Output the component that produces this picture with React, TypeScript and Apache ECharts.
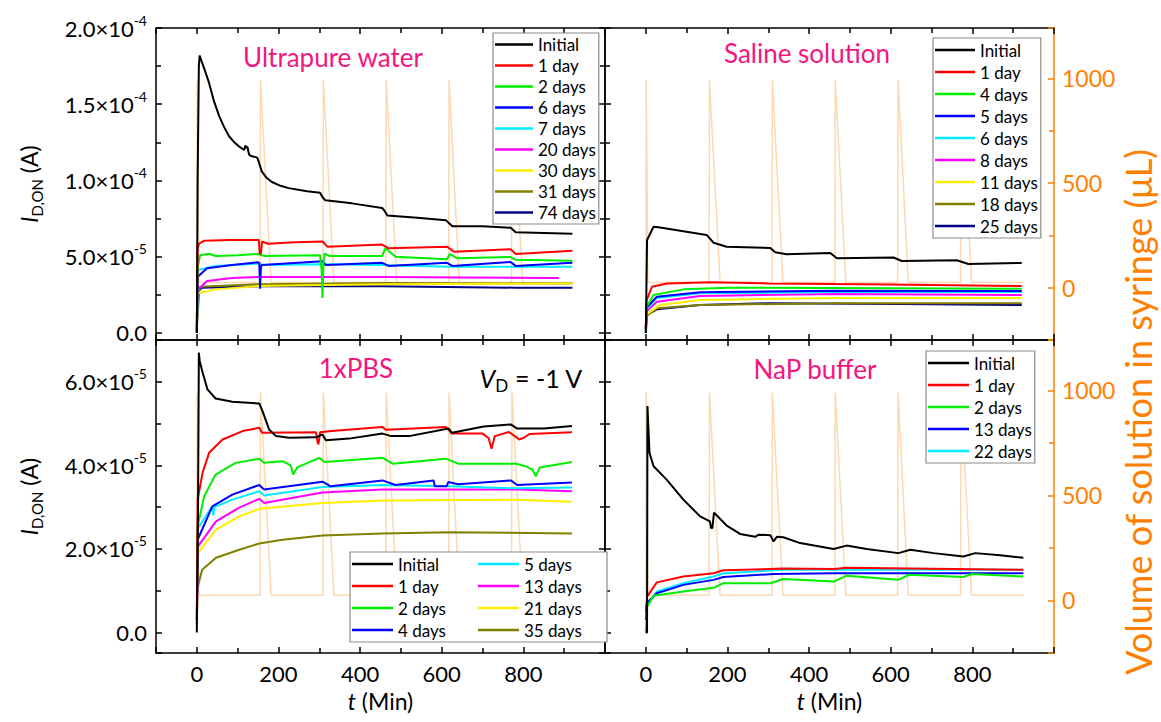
import React, { useEffect, useRef } from 'react';
import * as echarts from 'echarts';

type Pt = [number, number];

// ---- values are in units of 1e-5 A (converted with I_UNIT), time in minutes ----
const I_UNIT = 1e-5;

const T_MIN = -100;
const T_MAX = 1000;
const T_STEP = 200;

const TOP_I_MIN = -0.46e-5;
const TOP_I_MAX = 20e-5;
const TOP_I_STEP = 5e-5;
const BOT_I_MIN = -0.49e-5;
const BOT_I_MAX = 7e-5;
const BOT_I_STEP = 2e-5;

const VOL_MIN = -250;
const VOL_MAX = 1240;
const VOL_STEP = 500;

// syringe volume (µL) vs time (min)
const VOLUME: Pt[] = [
  [0, 25], [1, 990], [5, 25], [155, 25], [156, 990], [182, 25], [309, 25], [310, 990], [336, 25],
  [463, 25], [464, 990], [490, 25], [617, 25], [618, 990], [643, 25], [771, 25], [772, 990], [798, 25], [925, 25],
];

// ---------- Ultrapure water ----------
const UW_LABELS = ['Initial', '1 day', '2 days', '6 days', '7 days', '20 days', '30 days', '31 days', '74 days'];
const UW_INITIAL: Pt[] = [[0, 0], [2, 10], [5, 17.5], [7, 18.2], [12, 17.8], [20, 17.2], [30, 16.4], [42, 15.2], [55, 14.2], [67, 13.5], [79, 12.9], [92, 12.5], [105, 12.2], [116, 12.0], [119, 12.3], [121, 12.15], [124, 12.2], [128, 11.7], [133, 11.6], [148, 11.5], [152, 11.2], [159, 10.6], [170, 10.2], [184, 9.9], [205, 9.65], [225, 9.5], [270, 9.3], [302, 9.2], [308, 8.9], [315, 8.7], [380, 8.5], [454, 8.2], [460, 8.0], [467, 7.7], [540, 7.55], [610, 7.4], [618, 7.2], [626, 7.0], [700, 7.0], [769, 6.9], [775, 6.75], [781, 6.6], [850, 6.55], [920, 6.5]];
const UW_1DAY: Pt[] = [[0, 0.2], [2, 5.5], [5, 5.85], [18, 6.05], [80, 6.1], [152, 6.1], [154, 5.2], [157, 5.2], [160, 6.0], [174, 5.85], [240, 5.95], [308, 6.0], [320, 5.66], [454, 5.8], [470, 5.55], [613, 5.66], [630, 5.33], [769, 5.49], [781, 5.18], [920, 5.4]];
const UW_2DAYS: Pt[] = [[0, 0.2], [2, 4.3], [8, 5.1], [30, 5.2], [46, 5.05], [100, 5.1], [149, 5.18], [166, 5.05], [302, 5.1], [306, 4.0], [308, 2.3], [310, 4.5], [313, 5.2], [325, 5.05], [454, 5.05], [462, 5.55], [487, 5.0], [613, 4.83], [620, 5.18], [638, 4.9], [769, 4.98], [781, 4.8], [920, 4.74]];
const UW_6DAYS: Pt[] = [[0, 0], [2, 2.5], [3, 3.7], [25, 4.24], [86, 4.46], [149, 4.64], [153, 4.6], [155, 2.9], [157, 4.3], [159, 4.46], [308, 4.7], [316, 4.46], [454, 4.6], [470, 4.4], [613, 4.6], [626, 4.4], [769, 4.65], [781, 4.4], [920, 4.6]];
const UW_7DAYS: Pt[] = [[0, 0.5], [3, 4.13], [46, 4.4], [149, 4.55], [165, 4.46], [308, 4.5], [454, 4.46], [613, 4.35], [920, 4.35]];
const UW_20DAYS: Pt[] = [[0, 1], [2, 2.82], [25, 3.41], [86, 3.6], [149, 3.67], [454, 3.67], [887, 3.6]];
const UW_30DAYS: Pt[] = [[0, 0.5], [3, 2.6], [46, 2.86], [149, 3.08], [454, 3.2], [920, 3.24]];
const UW_31DAYS: Pt[] = [[0, 0.5], [7, 3.03], [149, 3.2], [454, 3.28], [920, 3.24]];
const UW_74DAYS: Pt[] = [[0, 0], [2, 2.7], [12, 2.97], [149, 3.06], [454, 3.06], [781, 2.97], [920, 2.97]];

// ---------- Saline solution ----------
const SS_LABELS = ['Initial', '1 day', '4 days', '5 days', '6 days', '8 days', '11 days', '18 days', '25 days'];
const SS_INITIAL: Pt[] = [[0, 0], [3, 6.1], [19, 6.97], [31, 6.93], [149, 6.43], [166, 5.92], [198, 5.66], [305, 5.57], [317, 5.29], [345, 5.16], [452, 5.25], [468, 4.9], [607, 4.95], [627, 4.72], [762, 4.77], [790, 4.52], [921, 4.59]];
const SS_1DAY: Pt[] = [[0, 0.3], [2, 2.16], [15, 3.03], [52, 3.25], [158, 3.32], [300, 3.25], [600, 3.18], [850, 3.1], [921, 3.08]];
const SS_4DAYS: Pt[] = [[0, 0], [2, 1.72], [19, 2.49], [93, 2.86], [200, 2.97], [921, 2.9]];
const SS_5DAYS: Pt[] = [[0, 0.3], [3, 1.7], [27, 2.38], [133, 2.67], [460, 2.77], [921, 2.75]];
const SS_6DAYS: Pt[] = [[0, 0.3], [3, 1.6], [27, 2.3], [133, 2.6], [460, 2.68], [921, 2.68]];
const SS_8DAYS: Pt[] = [[0, 0.3], [1, 1.4], [27, 2.05], [133, 2.43], [460, 2.56], [921, 2.49]];
const SS_11DAYS: Pt[] = [[0, 0.3], [1, 1.2], [35, 1.84], [133, 2.16], [460, 2.3], [921, 2.3]];
const SS_18DAYS: Pt[] = [[0, 0.3], [1, 1.1], [27, 1.62], [133, 1.84], [460, 1.95], [921, 1.95]];
const SS_25DAYS: Pt[] = [[0, 0], [3, 1.18], [27, 1.55], [133, 1.84], [300, 1.95], [620, 1.9], [921, 1.84]];

// ---------- 1xPBS ----------
const PBS_LABELS = ['Initial', '1 day', '2 days', '4 days', '5 days', '13 days', '21 days', '35 days'];
const PBS_INITIAL: Pt[] = [[0, 0], [3, 3], [5, 6.7], [7, 6.5], [14, 6.23], [26, 5.82], [46, 5.6], [87, 5.52], [153, 5.48], [161, 5.3], [177, 4.86], [194, 4.7], [226, 4.66], [292, 4.67], [308, 4.74], [316, 4.6], [373, 4.64], [455, 4.76], [476, 4.7], [520, 4.7], [617, 4.88], [625, 4.78], [703, 4.93], [769, 4.98], [785, 4.88], [850, 4.88], [919, 4.94]];
const PBS_1DAY: Pt[] = [[0, 0.3], [2, 3.18], [14, 3.82], [30, 4.3], [63, 4.62], [112, 4.82], [153, 4.9], [160, 4.78], [292, 4.79], [296, 4.55], [298, 4.5], [302, 4.79], [330, 4.82], [455, 4.92], [463, 4.85], [610, 4.92], [625, 4.76], [700, 4.76], [715, 4.65], [722, 4.4], [730, 4.7], [765, 4.8], [790, 4.62], [801, 4.66], [815, 4.75], [919, 4.79]];
const PBS_2DAYS: Pt[] = [[0, 0.3], [2, 2.54], [18, 3.26], [46, 3.78], [95, 4.06], [153, 4.16], [165, 4.06], [210, 4.1], [230, 4.0], [236, 3.78], [246, 3.95], [300, 4.18], [313, 4.08], [455, 4.18], [480, 4.04], [610, 4.16], [640, 4.04], [782, 4.04], [805, 3.98], [822, 3.9], [831, 3.74], [840, 3.95], [919, 4.08]];
const PBS_4DAYS: Pt[] = [[0, 0.3], [2, 2.22], [38, 3.02], [87, 3.3], [153, 3.53], [165, 3.42], [308, 3.61], [328, 3.5], [455, 3.64], [487, 3.53], [580, 3.64], [583, 3.5], [612, 3.5], [616, 3.6], [640, 3.55], [769, 3.64], [785, 3.53], [919, 3.59]];
const PBS_5DAYS: Pt[] = [[0, 0.4], [3, 2.5], [38, 3.02], [40, 2.8], [43, 3.0], [87, 3.18], [153, 3.38], [165, 3.28], [308, 3.48], [455, 3.53], [617, 3.5], [785, 3.45], [919, 3.47]];
const PBS_13DAYS: Pt[] = [[0, 0.2], [3, 2.06], [47, 2.66], [104, 2.99], [153, 3.2], [165, 3.1], [308, 3.35], [455, 3.42], [785, 3.42], [919, 3.38]];
const PBS_21DAYS: Pt[] = [[0, 0.1], [3, 1.9], [47, 2.46], [104, 2.78], [153, 2.96], [308, 3.1], [455, 3.16], [785, 3.18], [919, 3.13]];
const PBS_35DAYS: Pt[] = [[0, 1.0], [13, 1.5], [47, 1.79], [104, 1.98], [153, 2.13], [210, 2.22], [308, 2.32], [455, 2.37], [617, 2.4], [919, 2.37]];

// ---------- NaP buffer ----------
const NAP_LABELS = ['Initial', '1 day', '2 days', '13 days', '22 days'];
const NAP_INITIAL: Pt[] = [[0, 0], [3, 0], [4, 5.42], [5, 5.42], [9, 4.3], [19, 3.98], [51, 3.66], [92, 3.18], [133, 2.78], [157, 2.66], [160, 2.5], [163, 2.5], [167, 2.87], [198, 2.56], [231, 2.36], [268, 2.29], [276, 2.34], [305, 2.33], [313, 2.18], [321, 2.29], [337, 2.28], [378, 2.14], [460, 2.0], [492, 2.08], [541, 2.0], [619, 1.9], [648, 1.98], [705, 1.9], [778, 1.82], [807, 1.9], [868, 1.85], [925, 1.79]];
const NAP_1DAY: Pt[] = [[0, 0.3], [3, 0.86], [27, 1.2], [92, 1.34], [166, 1.42], [190, 1.49], [337, 1.53], [460, 1.52], [492, 1.55], [925, 1.5]];
const NAP_2DAYS: Pt[] = [[0, 0], [3, 0.62], [19, 0.88], [92, 0.98], [166, 1.07], [190, 1.18], [305, 1.18], [337, 1.28], [460, 1.22], [492, 1.36], [619, 1.26], [644, 1.38], [778, 1.33], [799, 1.4], [925, 1.34]];
const NAP_13DAYS: Pt[] = [[0, 0.5], [2, 0.7], [27, 0.94], [92, 1.14], [166, 1.26], [190, 1.33], [313, 1.4], [460, 1.42], [925, 1.42]];
const NAP_22DAYS: Pt[] = [[0, 0.5], [2, 0.62], [27, 0.98], [92, 1.18], [166, 1.34], [190, 1.42], [337, 1.5], [925, 1.5]];

// ---------- styles ----------
const C = {
  black: '#000000', red: '#ff0000', green: '#00ee00', blue: '#0000ff', cyan: '#00eeff',
  magenta: '#ff00ff', yellow: '#ffee00', olive: '#808000', navy: '#000080',
};
const UW_COLORS = [C.black, C.red, C.green, C.blue, C.cyan, C.magenta, C.yellow, C.olive, C.navy];
const SS_COLORS = [C.black, C.red, C.green, C.blue, C.cyan, C.magenta, C.yellow, C.olive, C.navy];
const PBS_COLORS = [C.black, C.red, C.green, C.blue, C.cyan, C.magenta, C.yellow, C.olive];
const NAP_COLORS = [C.black, C.red, C.green, C.blue, C.cyan];

const FONT = 'Lato';
const ORANGE = '#ff8000';
const VOL_LINE = '#fcd9b0';
const PINK = '#f5157f';

const PANELS = [
  { key: 'UW', labels: UW_LABELS, colors: UW_COLORS, data: [UW_INITIAL, UW_1DAY, UW_2DAYS, UW_6DAYS, UW_7DAYS, UW_20DAYS, UW_30DAYS, UW_31DAYS, UW_74DAYS] },
  { key: 'SS', labels: SS_LABELS, colors: SS_COLORS, data: [SS_INITIAL, SS_1DAY, SS_4DAYS, SS_5DAYS, SS_6DAYS, SS_8DAYS, SS_11DAYS, SS_18DAYS, SS_25DAYS] },
  { key: 'PBS', labels: PBS_LABELS, colors: PBS_COLORS, data: [PBS_INITIAL, PBS_1DAY, PBS_2DAYS, PBS_4DAYS, PBS_5DAYS, PBS_13DAYS, PBS_21DAYS, PBS_35DAYS] },
  { key: 'NAP', labels: NAP_LABELS, colors: NAP_COLORS, data: [NAP_INITIAL, NAP_1DAY, NAP_2DAYS, NAP_13DAYS, NAP_22DAYS] },
];

const GRIDS = [
  { left: 156, top: 28, width: 449, height: 312 },
  { left: 605, top: 28, width: 449, height: 312 },
  { left: 156, top: 340, width: 449, height: 313 },
  { left: 605, top: 340, width: 449, height: 313 },
];

const LEGENDS = [
  { left: 493, top: 33, lineHeight: 21, itemWidth: 38, textWidth: undefined as number | undefined, height: undefined as number | undefined },
  { left: 933, top: 38, lineHeight: 22, itemWidth: 40, textWidth: undefined, height: undefined },
  { left: 350, top: 552, lineHeight: 22, itemWidth: 41, textWidth: 80, height: 92 },
  { left: 926, top: 351, lineHeight: 22, itemWidth: 41, textWidth: undefined, height: undefined },
];

const isMultiple = (v: number, step: number) => {
  const k = v / step;
  return Math.abs(k - Math.round(k)) < 1e-6;
};

const sciFormatter = (step: number) => (v: number) => {
  if (!isMultiple(v, step)) return '';
  if (Math.abs(v) < step * 1e-6) return '{m|0.0}';
  const e = Math.floor(Math.log10(Math.abs(v)) + 1e-9);
  const m = v / Math.pow(10, e);
  return `{m|${m.toFixed(1)}×10}{s|${e}}`;
};

const blackLine = { color: '#000', width: 1.5 };

function xAxis(gridIndex: number, position: 'top' | 'bottom', showLabel: boolean, showName: boolean) {
  return {
    type: 'value', gridIndex, position, min: T_MIN, max: T_MAX, minInterval: T_STEP, maxInterval: T_STEP,
    axisLine: { show: true, onZero: false, lineStyle: blackLine },
    axisTick: { show: true, inside: true, length: 6, lineStyle: blackLine },
    minorTick: { show: true, splitNumber: 2, length: 5, lineStyle: blackLine },
    splitLine: { show: false },
    axisLabel: {
      show: showLabel, showMinLabel: false, showMaxLabel: false, margin: 9,
      fontFamily: FONT, fontSize: 22, color: '#000',
      formatter: (v: number) => (isMultiple(v, T_STEP) ? String(v) : ''),
    },
    name: showName ? '{i|t}{n| (Min)}' : '',
    nameLocation: 'middle', nameGap: 36,
    nameTextStyle: {
      rich: {
        i: { fontFamily: FONT, fontSize: 23, fontStyle: 'italic', color: '#000' },
        n: { fontFamily: FONT, fontSize: 23, color: '#000' },
      },
    },
  };
}

function yAxisI(gridIndex: number, position: 'left' | 'right', top: boolean, showLabel: boolean, showName: boolean) {
  const step = top ? TOP_I_STEP : BOT_I_STEP;
  return {
    type: 'value', gridIndex, position,
    min: top ? TOP_I_MIN : BOT_I_MIN, max: top ? TOP_I_MAX : BOT_I_MAX, minInterval: step, maxInterval: step,
    axisLine: { show: true, onZero: false, lineStyle: blackLine },
    axisTick: { show: true, inside: true, length: 6, lineStyle: blackLine },
    minorTick: { show: true, splitNumber: 2, length: 5, lineStyle: blackLine },
    splitLine: { show: false },
    axisLabel: {
      show: showLabel, showMinLabel: false, margin: 9,
      formatter: sciFormatter(step),
      rich: {
        m: { fontFamily: FONT, fontSize: 22, color: '#000', lineHeight: 30 },
        s: { fontFamily: FONT, fontSize: 14, color: '#000', lineHeight: 14, verticalAlign: 'top' },
      },
    },
    name: showName ? '{i|I}{sub|D,ON}{n| (A)}' : '',
    nameLocation: 'middle', nameRotate: 90, nameGap: 112,
    nameTextStyle: {
      rich: {
        i: { fontFamily: FONT, fontSize: 23, fontStyle: 'italic', color: '#000', lineHeight: 30 },
        sub: { fontFamily: FONT, fontSize: 15, color: '#000', lineHeight: 15, verticalAlign: 'bottom' },
        n: { fontFamily: FONT, fontSize: 23, color: '#000', lineHeight: 30 },
      },
    },
  };
}

function yAxisVol(gridIndex: number, visible: boolean) {
  return {
    type: 'value', gridIndex, position: 'right', show: visible,
    min: VOL_MIN, max: VOL_MAX, minInterval: VOL_STEP, maxInterval: VOL_STEP,
    axisLine: { show: true, onZero: false, lineStyle: { color: ORANGE, width: 1.5 } },
    axisTick: { show: true, inside: true, length: 6, lineStyle: { color: ORANGE, width: 1.5 } },
    minorTick: { show: true, splitNumber: 2, length: 5, lineStyle: { color: ORANGE, width: 1.5 } },
    splitLine: { show: false },
    axisLabel: {
      show: true, showMinLabel: false, showMaxLabel: false, margin: 8,
      fontFamily: FONT, fontSize: 23, color: ORANGE,
      formatter: (v: number) => (isMultiple(v, VOL_STEP) ? String(v) : ''),
    },
  };
}

function buildOption() {
  const xAxes: any[] = [];
  const yAxes: any[] = [];
  const series: any[] = [];
  const legends: any[] = [];

  PANELS.forEach((p, g) => {
    const isTop = g < 2;
    const isLeft = g % 2 === 0;
    const xBottom = xAxes.length;
    xAxes.push(xAxis(g, 'bottom', !isTop, !isTop));
    xAxes.push(xAxis(g, 'top', false, false));

    const yI = yAxes.length;
    yAxes.push(yAxisI(g, 'left', isTop, isLeft, isLeft));
    let yVol: number;
    if (isLeft) {
      yAxes.push(yAxisI(g, 'right', isTop, false, false));
      yVol = yAxes.length;
      yAxes.push(yAxisVol(g, false));
    } else {
      yVol = yAxes.length;
      yAxes.push(yAxisVol(g, true));
    }

    series.push({
      type: 'line', name: `${p.key}|volume`, xAxisIndex: xBottom, yAxisIndex: yVol,
      data: VOLUME, symbol: 'none', showSymbol: false, silent: true, z: 1,
      lineStyle: { color: VOL_LINE, width: 1.5 }, itemStyle: { color: VOL_LINE },
    });

    const names: string[] = [];
    p.data.forEach((d, i) => {
      const name = `${p.key}|${p.labels[i]}`;
      names.push(name);
      series.push({
        type: 'line', name, xAxisIndex: xBottom, yAxisIndex: yI,
        data: d.map(([t, v]) => [t, v * I_UNIT]),
        symbol: 'none', showSymbol: false, silent: true, z: 3 + (p.data.length - i),
        lineStyle: { color: p.colors[i], width: 2 }, itemStyle: { color: p.colors[i] },
      });
    });

    const L = LEGENDS[g];
    legends.push({
      data: names, orient: 'vertical', left: L.left, top: L.top, height: L.height,
      icon: 'rect', itemWidth: L.itemWidth, itemHeight: 2.5, itemGap: 0, selectedMode: false,
      padding: [1, 3, 1, 2], borderColor: '#8c8c8c', borderWidth: 1.2, backgroundColor: '#fff',
      textStyle: { fontFamily: FONT, fontSize: 17, color: '#000', lineHeight: L.lineHeight, width: L.textWidth },
      formatter: (n: string) => n.split('|')[1],
      z: 20,
    });
  });

  const txt = (text: string, x: number, y: number, size: number, color: string) => ({
    type: 'text', x, y, z: 30,
    style: { text, fill: color, fontFamily: FONT, fontSize: size, align: 'center', verticalAlign: 'middle' },
  });

  const graphic = [
    txt('Ultrapure water', 333, 57, 26, PINK),
    txt('Saline solution', 807, 53, 26, PINK),
    txt('1xPBS', 356, 368, 26, PINK),
    txt('NaP buffer', 815, 369, 26, PINK),
    {
      type: 'text', x: 531, y: 378, z: 30,
      style: {
        text: '{v|V}{d|D}{n| = -1 V}', align: 'center', verticalAlign: 'middle',
        rich: {
          v: { fontFamily: FONT, fontSize: 25, fontStyle: 'italic', fill: '#000', lineHeight: 32 },
          d: { fontFamily: FONT, fontSize: 17, fill: '#000', lineHeight: 17, verticalAlign: 'bottom' },
          n: { fontFamily: FONT, fontSize: 25, fill: '#000', lineHeight: 32 },
        },
      },
    },
    {
      type: 'text', x: 1138, y: 412, rotation: Math.PI / 2, z: 30,
      style: {
        text: 'Volume of solution in syringe (μL)', fill: ORANGE, fontFamily: FONT, fontSize: 36,
        align: 'center', verticalAlign: 'middle',
      },
    },
  ];

  return {
    animation: false,
    backgroundColor: '#ffffff',
    grid: GRIDS.map((g) => ({ ...g, containLabel: false })),
    xAxis: xAxes,
    yAxis: yAxes,
    legend: legends,
    series,
    graphic,
  };
}

export default function App() {
  const ref = useRef<HTMLDivElement>(null);
  useEffect(() => {
    document.body.style.margin = '0';
    if (!ref.current) return;
    const chart = echarts.init(ref.current, undefined, { renderer: 'svg' });
    chart.setOption(buildOption() as any);
    return () => chart.dispose();
  }, []);
  return <div ref={ref} style={{ width: 1161, height: 722, background: '#fff' }} />;
}
